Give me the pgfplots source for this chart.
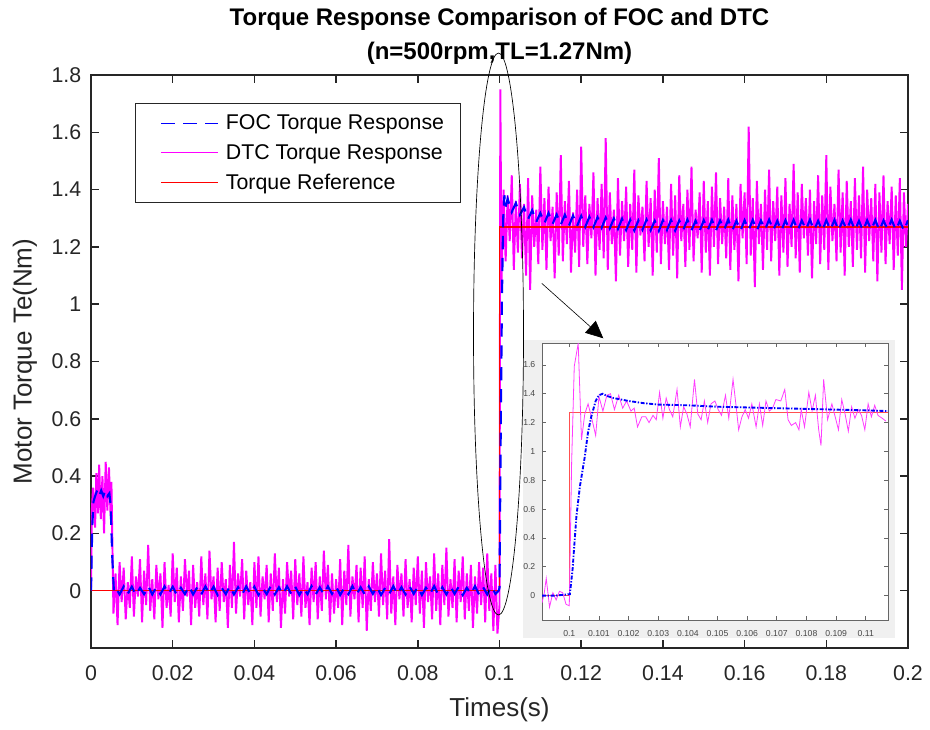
\documentclass[border=0pt]{standalone}
\usepackage{fontspec}
\setmainfont{Liberation Sans}
\usepackage{pgfplots}
\pgfplotsset{compat=1.18}
\usetikzlibrary{arrows.meta}
\definecolor{axgray}{RGB}{38,38,38}
\definecolor{mag}{RGB}{255,0,255}
\definecolor{bgray}{RGB}{240,240,240}
\definecolor{imag}{RGB}{255,60,255}
\definecolor{ired}{RGB}{255,80,80}
\begin{document}
\begin{tikzpicture}[x=0.75pt,y=0.75pt]
\begin{axis}[
 at={(0pt,0pt)}, anchor=south west, scale only axis,
 width=612.75pt, height=429.75pt,
 xmin=0, xmax=0.2, ymin=-0.2, ymax=1.8,
 xtick={0,0.02,0.04,0.06,0.08,0.1,0.12,0.14,0.16,0.18,0.2},
 ytick={0,0.2,0.4,0.6,0.8,1,1.2,1.4,1.6,1.8},
 scaled x ticks=false, scaled y ticks=false,
 /pgf/number format/assume math mode=true,
 tick label style={font=\fontsize{16}{19}\selectfont, text=axgray},
 xticklabel style={/pgf/number format/fixed, /pgf/number format/precision=2, yshift=-10pt},
 yticklabel style={/pgf/number format/fixed, /pgf/number format/precision=1, xshift=-3.75pt},
 tick align=inside, major tick length=6pt,
 axis line style={axgray, line width=1.1pt}, tick style={axgray, line width=1.1pt},
 xlabel={Times(s)}, ylabel={Motor Torque Te(Nm)},
 label style={font=\fontsize{19.5}{23}\selectfont, text=axgray},
 xlabel style={at={(axis description cs:0.5,-0.1187)}, anchor=base},
 ylabel style={at={(axis description cs:-0.0808,0.5)}, anchor=center},
 title={Torque Response Comparison of FOC and DTC\\(n=500rpm,TL=1.27Nm)},
 title style={font=\bfseries\fontsize{18}{25.5}\selectfont, align=center, at={(axis description cs:0.5,1.0045)}, anchor=south, inner sep=0pt, text=black},
 legend style={at={(axis description cs:0.0539,0.951)}, anchor=north west, draw=axgray, line width=0.6pt, fill=white, font=\fontsize{16}{19}\selectfont, inner xsep=10pt, inner ysep=6.5pt, row sep=5.5pt, column sep=3pt, nodes={inner sep=2pt, text=black}},
 legend cell align=left,
 legend image code/.code={\path (0pt,0pt); \draw[#1] (9pt,0pt) -- (51.75pt,0pt);},
]
\addlegendimage{blue, line width=1.1pt, dash pattern=on 10pt off 6.4pt}
\addlegendentry{FOC Torque Response}
\addlegendimage{mag, line width=1pt}
\addlegendentry{DTC Torque Response}
\addlegendimage{red, line width=1pt}
\addlegendentry{Torque Reference}

% DTC torque response
\addplot[mag, line width=1.45pt, forget plot] coordinates {
(0,0)(0.0002,0.28)(0.0005,0.36)(0.001,0.22)(0.0013,0.41)(0.0017,0.27)(0.002,0.44)(0.0024,0.25)(0.0028,0.40)(0.0032,0.20)(0.0036,0.45)(0.004,0.28)(0.0044,0.43)(0.0048,0.26)(0.005,0.38)
(0.0055,-0.08)(0.006,0.06)(0.0065,-0.12)(0.007,0.10)(0.0075,-0.04)(0.008,0.08)(0.0085,-0.10)(0.009,0.03)(0.0095,-0.06)(0.010,0.12)
(0.0105,-0.09)(0.011,0.05)(0.0115,-0.02)(0.012,0.11)(0.0125,-0.11)(0.013,0.07)(0.0135,-0.05)(0.014,0.16)(0.0145,-0.07)(0.015,0.04)
(0.0155,-0.10)(0.016,0.09)(0.0165,-0.03)(0.017,0.06)(0.0175,-0.13)(0.018,0.10)(0.0185,-0.06)(0.019,0.02)(0.0195,-0.09)(0.020,0.13)
(0.0205,-0.04)(0.021,0.08)(0.0215,-0.11)(0.022,0.05)(0.0225,-0.07)(0.023,0.11)(0.0235,-0.02)(0.024,0.07)(0.0245,-0.12)(0.025,0.09)
(0.0255,-0.06)(0.026,0.03)(0.0265,-0.09)(0.027,0.12)(0.0275,-0.05)(0.028,0.06)(0.0285,-0.10)(0.029,0.14)(0.0295,-0.03)(0.030,0.05)
(0.0305,-0.11)(0.031,0.08)(0.0315,-0.07)(0.032,0.10)(0.0325,-0.04)(0.033,0.04)(0.0335,-0.13)(0.034,0.09)(0.0345,-0.06)(0.035,0.17)
(0.0355,-0.08)(0.036,0.06)(0.0365,-0.02)(0.037,0.11)(0.0375,-0.10)(0.038,0.07)(0.0385,-0.05)(0.039,0.03)(0.0395,-0.12)(0.040,0.10)
(0.0405,-0.06)(0.041,0.12)(0.0415,-0.09)(0.042,0.05)(0.0425,-0.03)(0.043,0.09)(0.0435,-0.11)(0.044,0.06)(0.0445,-0.07)(0.045,0.13)
(0.0455,-0.04)(0.046,0.08)(0.0465,-0.13)(0.047,0.04)(0.0475,-0.08)(0.048,0.10)(0.0485,-0.02)(0.049,0.07)(0.0495,-0.10)(0.050,0.11)
(0.0505,-0.05)(0.051,0.06)(0.0515,-0.09)(0.052,0.12)(0.0525,-0.06)(0.053,0.03)(0.0535,-0.12)(0.054,0.08)(0.0545,-0.04)(0.055,0.10)
(0.0555,-0.10)(0.056,0.05)(0.0565,-0.07)(0.057,0.14)(0.0575,-0.03)(0.058,0.09)(0.0585,-0.11)(0.059,0.06)(0.0595,-0.08)(0.060,0.04)
(0.0605,-0.06)(0.061,0.11)(0.0615,-0.12)(0.062,0.07)(0.0625,-0.05)(0.063,0.16)(0.0635,-0.09)(0.064,0.05)(0.0645,-0.03)(0.065,0.09)
(0.0655,-0.11)(0.066,0.08)(0.0665,-0.06)(0.067,0.12)(0.0675,-0.14)(0.068,0.04)(0.0685,-0.07)(0.069,0.10)(0.0695,-0.04)(0.070,0.06)
(0.0705,-0.09)(0.071,0.13)(0.0715,-0.05)(0.072,0.07)(0.0725,-0.10)(0.073,0.18)(0.0735,-0.08)(0.074,0.05)(0.0745,-0.12)(0.075,0.09)
(0.0755,-0.03)(0.076,0.06)(0.0765,-0.09)(0.077,0.11)(0.0775,-0.06)(0.078,0.04)(0.0785,-0.11)(0.079,0.08)(0.0795,-0.05)(0.080,0.12)
(0.0805,-0.08)(0.081,0.07)(0.0815,-0.13)(0.082,0.10)(0.0825,-0.04)(0.083,0.05)(0.0835,-0.10)(0.084,0.13)(0.0845,-0.07)(0.085,0.06)
(0.0855,-0.12)(0.086,0.09)(0.0865,-0.05)(0.087,0.15)(0.0875,-0.09)(0.088,0.04)(0.0885,-0.06)(0.089,0.11)(0.0895,-0.11)(0.090,0.07)
(0.0905,-0.04)(0.091,0.12)(0.0915,-0.10)(0.092,0.06)(0.0925,-0.07)(0.093,0.09)(0.0935,-0.13)(0.094,0.05)(0.0945,-0.08)(0.095,0.10)
(0.0955,-0.05)(0.096,0.08)(0.0965,-0.11)(0.097,0.13)(0.0975,-0.07)(0.098,0.06)(0.0985,-0.14)(0.099,0.09)(0.0995,-0.15)
(0.1,-0.05)(0.1002,1.75)
(0.1005,1.08)(0.101,1.40)(0.1015,1.15)(0.102,1.38)(0.1025,1.22)(0.103,1.45)(0.1035,1.12)(0.104,1.36)(0.1045,1.18)(0.105,1.42)
(0.1055,1.16)(0.106,1.35)(0.1065,1.10)(0.107,1.44)(0.1075,1.05)(0.108,1.38)(0.1085,1.20)(0.109,1.33)(0.1095,1.14)(0.110,1.48)
(0.1105,1.19)(0.111,1.37)(0.1115,1.12)(0.112,1.41)(0.1125,1.22)(0.113,1.34)(0.1135,1.09)(0.114,1.39)(0.1145,1.17)(0.115,1.52)
(0.1155,1.15)(0.116,1.36)(0.1165,1.21)(0.117,1.43)(0.1175,1.11)(0.118,1.32)(0.1185,1.18)(0.119,1.40)(0.1195,1.13)(0.120,1.55)
(0.1205,1.20)(0.121,1.38)(0.1215,1.14)(0.122,1.35)(0.1225,1.23)(0.123,1.46)(0.1235,1.10)(0.124,1.37)(0.1245,1.19)(0.125,1.42)
(0.1255,1.16)(0.126,1.58)(0.1265,1.12)(0.127,1.39)(0.1275,1.21)(0.128,1.33)(0.1285,1.08)(0.129,1.44)(0.1295,1.17)(0.130,1.36)
(0.1305,1.22)(0.131,1.41)(0.1315,1.13)(0.132,1.35)(0.1325,1.19)(0.133,1.47)(0.1335,1.11)(0.134,1.38)(0.1345,1.24)(0.135,1.34)
(0.1355,1.15)(0.136,1.43)(0.1365,1.20)(0.137,1.37)(0.1375,1.10)(0.138,1.40)(0.1385,1.18)(0.139,1.51)(0.1395,1.14)(0.140,1.36)
(0.1405,1.21)(0.141,1.34)(0.1415,1.12)(0.142,1.42)(0.1425,1.17)(0.143,1.38)(0.1435,1.09)(0.144,1.45)(0.1445,1.22)(0.145,1.35)
(0.1455,1.13)(0.146,1.40)(0.1465,1.19)(0.147,1.48)(0.1475,1.15)(0.148,1.33)(0.1485,1.23)(0.149,1.39)(0.1495,1.11)(0.150,1.43)
(0.1505,1.18)(0.151,1.36)(0.1515,1.10)(0.152,1.41)(0.1525,1.20)(0.153,1.46)(0.1535,1.14)(0.154,1.37)(0.1545,1.21)(0.155,1.34)
(0.1555,1.16)(0.156,1.44)(0.1565,1.12)(0.157,1.38)(0.1575,1.19)(0.158,1.35)(0.1585,1.08)(0.159,1.42)(0.1595,1.23)(0.160,1.39)
(0.1605,1.14)(0.161,1.62)(0.1615,1.17)(0.162,1.37)(0.1625,1.06)(0.163,1.43)(0.1635,1.21)(0.164,1.35)(0.1645,1.12)(0.165,1.40)
(0.1655,1.19)(0.166,1.47)(0.1665,1.15)(0.167,1.36)(0.1675,1.22)(0.168,1.41)(0.1685,1.10)(0.169,1.38)(0.1695,1.18)(0.170,1.44)
(0.1705,1.13)(0.171,1.35)(0.1715,1.20)(0.172,1.49)(0.1725,1.16)(0.173,1.39)(0.1735,1.11)(0.174,1.42)(0.1745,1.23)(0.175,1.37)
(0.1755,1.17)(0.176,1.40)(0.1765,1.09)(0.177,1.36)(0.1775,1.21)(0.178,1.45)(0.1785,1.14)(0.179,1.38)(0.1795,1.19)(0.180,1.52)
(0.1805,1.12)(0.181,1.41)(0.1815,1.22)(0.182,1.35)(0.1825,1.15)(0.183,1.47)(0.1835,1.18)(0.184,1.39)(0.1845,1.10)(0.185,1.43)
(0.1855,1.20)(0.186,1.36)(0.1865,1.13)(0.187,1.44)(0.1875,1.19)(0.188,1.38)(0.1885,1.16)(0.189,1.48)(0.1895,1.11)(0.190,1.40)
(0.1905,1.22)(0.191,1.37)(0.1915,1.15)(0.192,1.42)(0.1925,1.08)(0.193,1.39)(0.1935,1.18)(0.194,1.45)(0.1945,1.14)(0.195,1.36)
(0.1955,1.21)(0.196,1.41)(0.1965,1.12)(0.197,1.38)(0.1975,1.17)(0.198,1.44)(0.1985,1.05)(0.199,1.39)(0.1995,1.20)(0.200,1.35)
};
% torque reference
\addplot[red, line width=1.1pt, forget plot] coordinates {(0,0)(0.1,0)(0.1,1.27)(0.2,1.27)};
% FOC torque response
\addplot[blue, line width=1.6pt, dash pattern=on 10pt off 6.4pt, forget plot] coordinates {
(0,0)(0.0003,0.22)(0.0006,0.31)(0.001,0.33)(0.0015,0.35)(0.002,0.33)(0.0025,0.35)(0.003,0.33)(0.0035,0.35)(0.004,0.33)(0.0045,0.34)(0.0048,0.30)(0.0052,0.12)(0.0056,0.0)
(0.006,0.012)(0.007,-0.013)(0.008,0.015)(0.009,-0.011)(0.010,0.014)(0.011,-0.015)(0.012,0.010)(0.013,-0.012)(0.014,0.016)(0.015,-0.013)
(0.016,0.012)(0.017,-0.013)(0.018,0.015)(0.019,-0.011)(0.020,0.014)(0.021,-0.015)(0.022,0.010)(0.023,-0.012)(0.024,0.016)(0.025,-0.013)
(0.026,0.012)(0.027,-0.013)(0.028,0.015)(0.029,-0.011)(0.030,0.014)(0.031,-0.015)(0.032,0.010)(0.033,-0.012)(0.034,0.016)(0.035,-0.013)
(0.036,0.012)(0.037,-0.013)(0.038,0.015)(0.039,-0.011)(0.040,0.014)(0.041,-0.015)(0.042,0.010)(0.043,-0.012)(0.044,0.016)(0.045,-0.013)
(0.046,0.012)(0.047,-0.013)(0.048,0.015)(0.049,-0.011)(0.050,0.014)(0.051,-0.015)(0.052,0.010)(0.053,-0.012)(0.054,0.016)(0.055,-0.013)
(0.056,0.012)(0.057,-0.013)(0.058,0.015)(0.059,-0.011)(0.060,0.014)(0.061,-0.015)(0.062,0.010)(0.063,-0.012)(0.064,0.016)(0.065,-0.013)
(0.066,0.012)(0.067,-0.013)(0.068,0.015)(0.069,-0.011)(0.070,0.014)(0.071,-0.015)(0.072,0.010)(0.073,-0.012)(0.074,0.016)(0.075,-0.013)
(0.076,0.012)(0.077,-0.013)(0.078,0.015)(0.079,-0.011)(0.080,0.014)(0.081,-0.015)(0.082,0.010)(0.083,-0.012)(0.084,0.016)(0.085,-0.013)
(0.086,0.012)(0.087,-0.013)(0.088,0.015)(0.089,-0.011)(0.090,0.014)(0.091,-0.015)(0.092,0.010)(0.093,-0.012)(0.094,0.016)(0.095,-0.013)
(0.096,0.012)(0.097,-0.013)(0.098,0.015)(0.099,-0.011)
(0.0998,0.0)(0.1,0.01)(0.1003,0.55)(0.1006,1.02)(0.1009,1.30)(0.1012,1.38)(0.1015,1.34)
(0.102,1.368)(0.103,1.322)(0.104,1.353)(0.105,1.312)(0.106,1.338)(0.107,1.297)(0.108,1.328)(0.109,1.287)(0.110,1.318)
(0.111,1.282)(0.112,1.318)(0.113,1.280)(0.114,1.313)(0.115,1.277)(0.116,1.312)(0.117,1.274)(0.118,1.309)(0.119,1.273)(0.120,1.308)
(0.121,1.270)(0.122,1.305)(0.123,1.269)(0.124,1.303)(0.125,1.267)(0.126,1.302)(0.127,1.265)(0.128,1.299)(0.129,1.263)(0.130,1.298)
(0.131,1.259)(0.132,1.294)(0.133,1.257)(0.134,1.292)(0.135,1.260)(0.136,1.295)(0.137,1.258)(0.138,1.291)(0.139,1.256)(0.140,1.293)
(0.141,1.259)(0.142,1.294)(0.143,1.257)(0.144,1.292)(0.145,1.260)(0.146,1.295)(0.147,1.258)(0.148,1.291)(0.149,1.256)(0.150,1.293)
(0.151,1.259)(0.152,1.294)(0.153,1.257)(0.154,1.292)(0.155,1.260)(0.156,1.295)(0.157,1.258)(0.158,1.291)(0.159,1.256)(0.160,1.293)
(0.161,1.259)(0.162,1.294)(0.163,1.257)(0.164,1.292)(0.165,1.260)(0.166,1.295)(0.167,1.258)(0.168,1.291)(0.169,1.256)(0.170,1.293)
(0.171,1.259)(0.172,1.294)(0.173,1.257)(0.174,1.292)(0.175,1.260)(0.176,1.295)(0.177,1.258)(0.178,1.291)(0.179,1.256)(0.180,1.293)
(0.181,1.259)(0.182,1.294)(0.183,1.257)(0.184,1.292)(0.185,1.260)(0.186,1.295)(0.187,1.258)(0.188,1.291)(0.189,1.256)(0.190,1.293)
(0.191,1.259)(0.192,1.294)(0.193,1.257)(0.194,1.292)(0.195,1.260)(0.196,1.295)(0.197,1.258)(0.198,1.291)(0.199,1.256)(0.200,1.293)
};
\end{axis}

% inset background
\fill[bgray] (432,10) rectangle (804,308);

\begin{axis}[
 at={(338.25pt,21pt)}, anchor=south west, scale only axis,
 width=259.5pt, height=207.75pt,
 xmin=0.09908, xmax=0.11075, ymin=-0.169, ymax=1.752,
 xtick={0.1,0.101,0.102,0.103,0.104,0.105,0.106,0.107,0.108,0.109,0.11},
 ytick={0,0.2,0.4,0.6,0.8,1,1.2,1.4,1.6},
 scaled x ticks=false, scaled y ticks=false,
 /pgf/number format/assume math mode=true,
 tick label style={font=\fontsize{6.5}{7.5}\selectfont, text=black!72},
 xticklabel style={/pgf/number format/fixed, /pgf/number format/precision=3, yshift=-4pt},
 yticklabel style={/pgf/number format/fixed, /pgf/number format/precision=1, xshift=-1.5pt},
 tick align=inside, major tick length=3pt,
 axis line style={black!60, line width=0.5pt}, tick style={black!60, line width=0.5pt},
 axis background/.style={fill=white},
]
\addplot[ired, line width=0.6pt] coordinates {(0.09908,0)(0.1,0)(0.1,1.27)(0.11075,1.27)};
\addplot[imag, line width=0.6pt] coordinates {
(0.09908,-0.05)(0.099157,0.02)(0.099223,0.12)(0.099334,-0.08)(0.099446,0.02)(0.099557,-0.03)(0.099668,0.03)(0.099779,0.02)(0.09989,-0.06)(0.1,-0.07)
(0.100079,0.92)(0.100168,1.59)(0.100301,1.75)(0.100412,1.08)(0.100523,1.26)(0.100634,1.33)(0.100746,1.24)(0.10089,1.11)(0.101001,1.38)(0.101134,1.28)
(0.101268,1.39)(0.10139,1.40)(0.101523,1.29)(0.101668,1.39)(0.101801,1.30)(0.101934,1.35)(0.102079,1.28)(0.10219,1.30)(0.102301,1.17)(0.102446,1.24)
(0.102579,1.24)(0.10269,1.20)(0.102823,1.25)(0.102934,1.22)(0.103046,1.41)(0.103157,1.23)(0.103268,1.37)(0.103379,1.29)(0.10349,1.24)(0.103634,1.43)
(0.103746,1.17)(0.103857,1.31)(0.103968,1.26)(0.104079,1.17)(0.104223,1.50)(0.104334,1.26)(0.104446,1.22)(0.104557,1.35)(0.104668,1.20)(0.104779,1.33)
(0.104912,1.35)(0.105023,1.29)(0.105134,1.25)(0.105268,1.39)(0.105379,1.23)(0.105523,1.50)(0.105634,1.30)(0.105712,1.15)(0.105823,1.24)(0.105934,1.29)
(0.106046,1.23)(0.106157,1.33)(0.106301,1.17)(0.106412,1.33)(0.106523,1.18)(0.106634,1.35)(0.106746,1.28)(0.106857,1.30)(0.106968,1.36)(0.107134,1.35)
(0.107268,1.43)(0.107379,1.22)(0.10749,1.18)(0.107634,1.20)(0.107746,1.15)(0.107823,1.29)(0.107934,1.17)(0.108079,1.41)(0.10819,1.28)(0.108301,1.39)
(0.108412,1.15)(0.10849,1.04)(0.108579,1.50)(0.108712,1.22)(0.108857,1.33)(0.108968,1.24)(0.109079,1.15)(0.10919,1.36)(0.109301,1.26)(0.109412,1.14)
(0.109523,1.31)(0.109634,1.23)(0.109746,1.29)(0.109857,1.25)(0.109968,1.15)(0.110079,1.33)(0.11019,1.24)(0.110301,1.32)(0.110412,1.25)(0.110557,1.23)(0.11068,1.21)
};
\addplot[blue, line width=1.4pt, dash pattern=on 3pt off 1.2pt on 1pt off 1.2pt] coordinates {
(0.09908,0.0)(0.0995,0.0)(0.10002,0.01)(0.10011,0.18)(0.10024,0.55)(0.10036,0.76)(0.10052,0.96)(0.10063,1.13)(0.10074,1.24)(0.10089,1.35)
(0.101,1.39)(0.10113,1.40)(0.10127,1.385)(0.1015,1.37)(0.102,1.35)(0.1025,1.335)(0.103,1.325)(0.104,1.32)(0.105,1.31)(0.106,1.305)
(0.107,1.30)(0.108,1.295)(0.109,1.29)(0.110,1.285)(0.11075,1.28)
};
\end{axis}

% annotations
\draw[black, line width=0.5pt] (407.5,314) ellipse [x radius=18.75pt, y radius=210.75pt];
\draw[black, line width=0.45pt, -{Triangle[length=13pt,width=12pt]}] (450.7,364.7) -- (512.3,309.7);

\pgfresetboundingbox
\path[use as bounding box] (-91,-81) rectangle (839,648);
\end{tikzpicture}
\end{document}
